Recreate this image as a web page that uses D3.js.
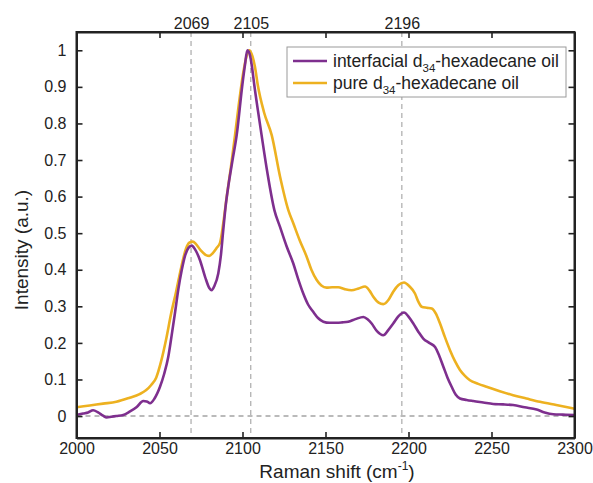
<!DOCTYPE html>
<html>
<head>
<meta charset="utf-8">
<script src="https://cdn.jsdelivr.net/npm/d3@7"></script>
<style>
  body { margin: 0; background: #fff; }
  svg { font-family: Arial, "Liberation Sans", sans-serif; }
  .axis path, .axis line { stroke: #222; }
  .axis text { fill: #222; font-size: 16px; }
</style>
</head>
<body>
<svg width="593" height="483"></svg>
<script>
// peak markers on the top axis
var peaks = [2069, 2105, 2196];
var xTicks = [2000, 2050, 2100, 2150, 2200, 2250, 2300];
var yTicks = [0, 0.1, 0.2, 0.3, 0.4, 0.5, 0.6, 0.7, 0.8, 0.9, 1];
var seriesNames = ["interfacial", "pure"];

// interfacial d34-hexadecane oil  [shift, intensity]
var interfacial = [
  [2000,0.003],[2004,0.007],[2007,0.010],[2010,0.016],[2013,0.010],[2016,0.001],[2018.2,-0.004],
  [2021,-0.002],[2024,0.000],[2028.2,0.003],[2032,0.012],[2036.3,0.025],[2040.2,0.041],[2042.3,0.040],
  [2044.3,0.035],[2047,0.048],[2050.3,0.080],[2052.8,0.115],[2055.3,0.162],[2057.3,0.220],[2059.3,0.281],
  [2061.3,0.345],[2063.4,0.399],[2065.5,0.440],[2067.5,0.460],[2069.4,0.466],[2071.5,0.455],[2074.4,0.426],
  [2077.5,0.380],[2080,0.350],[2081.4,0.344],[2083,0.355],[2085.4,0.390],[2087,0.440],[2088.4,0.508],
  [2090,0.580],[2091.5,0.630],[2094,0.700],[2096.5,0.768],[2099.9,0.905],[2101.5,0.960],[2102.9,1.000],
  [2104.3,0.990],[2105.7,0.955],[2107.1,0.905],[2109.3,0.835],[2111.5,0.768],[2115,0.665],[2119.2,0.563],
  [2122.6,0.517],[2126.5,0.465],[2130.6,0.417],[2133.5,0.375],[2136.6,0.335],[2139.5,0.305],[2142.6,0.285],
  [2145.5,0.268],[2148.7,0.258],[2152.5,0.255],[2156.7,0.255],[2160,0.256],[2163.7,0.258],[2168,0.265],
  [2172.8,0.271],[2175.5,0.264],[2177.8,0.253],[2181,0.232],[2184.8,0.221],[2187.8,0.235],[2190.8,0.253],
  [2194,0.273],[2197.3,0.283],[2200,0.272],[2202.9,0.253],[2206,0.230],[2208.9,0.212],[2212.5,0.200],
  [2216,0.189],[2218.5,0.165],[2221,0.135],[2223.5,0.105],[2226,0.080],[2228.5,0.058],[2231,0.048],
  [2235,0.044],[2239,0.041],[2245,0.037],[2251,0.033],[2257,0.032],[2263,0.030],[2270,0.024],
  [2277.2,0.018],[2282,0.010],[2287.2,0.005],[2293,0.004],[2300,0.003]
];

// pure d34-hexadecane oil
var pure = [
  [2000,0.024],[2008,0.029],[2016,0.034],[2024,0.039],[2032,0.050],[2038,0.060],[2042,0.071],[2045,0.085],
  [2048,0.105],[2051,0.150],[2054,0.210],[2057,0.280],[2060,0.340],[2063,0.405],[2066,0.458],[2068,0.474],
  [2070,0.477],[2072,0.470],[2075,0.452],[2078,0.440],[2080,0.438],[2082,0.445],[2084.5,0.460],[2086.5,0.474],
  [2088.5,0.530],[2090.5,0.600],[2093,0.680],[2095.5,0.768],[2098,0.860],[2100.5,0.940],[2102.5,0.985],
  [2104,1.000],[2105.5,0.990],[2107.5,0.955],[2109.2,0.905],[2113,0.830],[2117.6,0.768],[2122.6,0.655],
  [2127.6,0.563],[2130.6,0.527],[2134.5,0.480],[2138.7,0.435],[2141.5,0.400],[2144.7,0.372],[2147.5,0.357],
  [2150.7,0.351],[2154,0.352],[2157.7,0.352],[2161.5,0.347],[2165.7,0.344],[2170,0.349],[2173.8,0.354],
  [2176.5,0.343],[2178.8,0.326],[2182,0.310],[2184.8,0.306],[2188,0.318],[2190.8,0.340],[2194,0.358],
  [2197.3,0.365],[2200.5,0.355],[2203.9,0.335],[2206,0.312],[2207.9,0.299],[2211,0.296],[2214,0.294],
  [2216.5,0.280],[2219,0.253],[2222,0.215],[2225,0.180],[2228,0.150],[2231,0.126],[2234,0.110],[2237,0.098],
  [2242,0.088],[2247,0.080],[2255,0.068],[2263,0.057],[2271,0.048],[2279.2,0.039],[2289,0.030],[2300,0.020]
];

var svg = d3.select("svg"),
    margin = {top: 32, right: 18.5, bottom: 45, left: 76.5},
    width = +svg.attr("width") - margin.left - margin.right,
    height = +svg.attr("height") - margin.top - margin.bottom;

var g = svg.append("g").attr("transform", "translate(" + margin.left + "," + margin.top + ")");

var x = d3.scaleLinear().domain([2000, 2300]).range([0, width]);
var y = d3.scaleLinear().domain([-0.06, 1.05]).range([height, 0]);

var color = d3.scaleOrdinal().domain(seriesNames).range(["#7E2F8E", "#EDB120"]);

// dashed guides
g.append("line")
    .attr("x1", 0).attr("x2", width)
    .attr("y1", y(0)).attr("y2", y(0))
    .attr("stroke", "#777").attr("stroke-width", 1.1)
    .attr("stroke-dasharray", "5,4");

g.selectAll(".peak")
  .data(peaks)
  .enter().append("line")
    .attr("class", "peak")
    .attr("x1", d => x(d)).attr("x2", d => x(d))
    .attr("y1", 0).attr("y2", height)
    .attr("stroke", "#999").attr("stroke-width", 1)
    .attr("stroke-dasharray", "5,4");

var line = d3.line()
    .x(d => x(d[0]))
    .y(d => y(d[1]))
    .curve(d3.curveMonotoneX);

// pure first, interfacial on top
g.append("path")
    .datum(pure)
    .attr("fill", "none")
    .attr("stroke", color("pure"))
    .attr("stroke-width", 2.6)
    .attr("d", line);

g.append("path")
    .datum(interfacial)
    .attr("fill", "none")
    .attr("stroke", color("interfacial"))
    .attr("stroke-width", 2.6)
    .attr("d", line);

// axes (box with inward ticks)
g.append("g")
    .attr("class", "axis")
    .attr("transform", "translate(0," + height + ")")
    .call(d3.axisBottom(x).tickValues(xTicks).tickSizeInner(-6).tickSizeOuter(0).tickPadding(5).tickFormat(d3.format("d")));

g.append("g")
    .attr("class", "axis")
    .call(d3.axisLeft(y).tickValues(yTicks).tickSizeInner(-6).tickSizeOuter(0).tickPadding(10).tickFormat(d => d === 0 || d === 1 ? d : d3.format(".1f")(d)));

g.append("g")
    .attr("class", "axis")
    .call(d3.axisTop(x).tickValues(xTicks).tickSizeInner(-6).tickSizeOuter(0).tickFormat(""));

g.append("g")
    .attr("class", "axis")
    .attr("transform", "translate(" + width + ",0)")
    .call(d3.axisRight(y).tickValues(yTicks).tickSizeInner(-6).tickSizeOuter(0).tickFormat(""));

// peak labels above the box
var peakAxis = g.append("g")
    .attr("class", "axis")
    .call(d3.axisTop(x).tickValues(peaks).tickSize(0).tickPadding(3).tickFormat(d3.format("d")));
peakAxis.select(".domain").remove();

g.append("rect")
    .attr("width", width).attr("height", height)
    .attr("fill", "none").attr("stroke", "#222").attr("stroke-width", 2);

g.selectAll(".axis .domain").attr("stroke-width", 2);
g.selectAll(".axis .tick line").attr("stroke-width", 1.6);

// axis titles
var xl = svg.append("text")
    .attr("x", 337).attr("y", 478)
    .attr("text-anchor", "middle")
    .attr("font-size", 19).attr("fill", "#222")
    .text("Raman shift (cm");
xl.append("tspan").attr("font-size", 12).attr("dy", -8).text("-1");
xl.append("tspan").attr("dy", 8).text(")");

svg.append("text")
    .attr("transform", "translate(28,250) rotate(-90)")
    .attr("text-anchor", "middle")
    .attr("font-size", 19).attr("fill", "#222")
    .text("Intensity (a.u.)");

// legend
var legend = svg.append("g").attr("transform", "translate(287,47)");
legend.append("rect")
    .attr("width", 279).attr("height", 50)
    .attr("fill", "#fff").attr("stroke", "#9a9a9a").attr("stroke-width", 1);

var labels = [
  {key: "interfacial", pre: "interfacial d"},
  {key: "pure", pre: "pure d"}
];
var item = legend.selectAll(".item")
  .data(labels)
  .enter().append("g")
    .attr("transform", (d, i) => "translate(0," + (14 + i * 22) + ")");
item.append("line")
    .attr("x1", 6).attr("x2", 40)
    .attr("stroke", d => color(d.key)).attr("stroke-width", 2.6);
var t = item.append("text")
    .attr("x", 46).attr("y", 6)
    .attr("font-size", 17.5).attr("fill", "#222");
t.append("tspan").text(d => d.pre);
t.append("tspan").attr("font-size", 11.5).attr("dy", 5).text("34");
t.append("tspan").attr("dy", -5).text("-hexadecane oil");
</script>
</body>
</html>
